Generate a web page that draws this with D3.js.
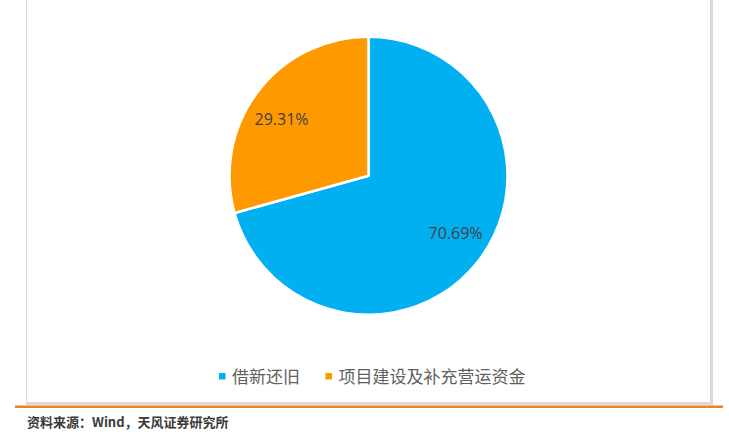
<!DOCTYPE html>
<html>
<head>
<meta charset="utf-8">
<script src="https://cdn.jsdelivr.net/npm/d3@7"></script>
<style>
  body { margin: 0; background: #fff; }
  svg text { font-family: "Noto Sans CJK SC", "Noto Sans", sans-serif; }
</style>
</head>
<body>
<svg class="chart" width="729" height="437"></svg>
<script>
const categories = ["借新还旧", "项目建设及补充营运资金"]
const shares = [70.69, 29.31]
const colors = ["#00B0F0", "#FF9900"]
const sourceText = "资料来源：Wind，天风证券研究所"

const svg = d3.select("svg.chart")

// frame
svg.append("line")
    .attr("x1", 26.5).attr("x2", 26.5)
    .attr("y1", 0).attr("y2", 403)
    .attr("stroke", "#d9d9d9").attr("stroke-width", 1)
svg.append("rect")
    .attr("x", 710).attr("y", 0)
    .attr("width", 3).attr("height", 405)
    .attr("fill", "#d9d9d9")
svg.append("rect")
    .attr("x", 26).attr("y", 402)
    .attr("width", 687).attr("height", 3)
    .attr("fill", "#d9d9d9")
svg.append("rect")
    .attr("x", 15).attr("y", 405.5)
    .attr("width", 708).attr("height", 2.5)
    .attr("fill", "#F07F22")

const cx = 368.5, cy = 175.8, radius = 139

const pie = d3.pie().sort(null).value(d => d)
const arc = d3.arc().innerRadius(0).outerRadius(radius)
const pctFormat = d3.format(".2f")

// label spot: slightly before mid-angle, like the best-fit labels of the original
const labelPos = d => {
    const a = (d.startAngle + d.endAngle) / 2 - 0.07
    return [Math.sin(a) * 104, -Math.cos(a) * 104]
}

const pieGroup = svg.append("g")
    .attr("transform", "translate(" + cx + "," + cy + ")")

const slices = pieGroup.selectAll("g")
    .data(pie(shares))
    .enter()
    .append("g")

slices.append("path")
    .attr("d", arc)
    .attr("fill", (d, i) => colors[i])
    .attr("stroke", "#fff")
    .attr("stroke-width", 2.5)
    .attr("stroke-linejoin", "round")

slices.append("text")
    .attr("transform", d => "translate(" + labelPos(d) + ")")
    .attr("text-anchor", "middle")
    .attr("dy", "0.36em")
    .attr("fill", "#404040")
    .style("font-family", "'Open Sans', 'Noto Sans', sans-serif")
    .style("font-size", "16px")
    .text(d => pctFormat(d.data) + "%")

// legend
const legendX = [219, 325.5]
const legend = svg.selectAll("g.legend")
    .data(categories)
    .enter()
    .append("g")
    .attr("class", "legend")
    .attr("transform", (d, i) => "translate(" + legendX[i] + ",373)")

legend.append("rect")
    .attr("width", 6.5).attr("height", 6.5)
    .attr("fill", (d, i) => colors[i])

legend.append("text")
    .attr("x", 13)
    .attr("y", 9.5)
    .attr("fill", "#5f5f5f")
    .style("font-size", "17px")
    .text(d => d)

svg.append("text")
    .attr("x", 27)
    .attr("y", 427)
    .attr("fill", "#3a3a3a")
    .style("font-size", "13px")
    .style("font-weight", "bold")
    .text(sourceText)
</script>
</body>
</html>
